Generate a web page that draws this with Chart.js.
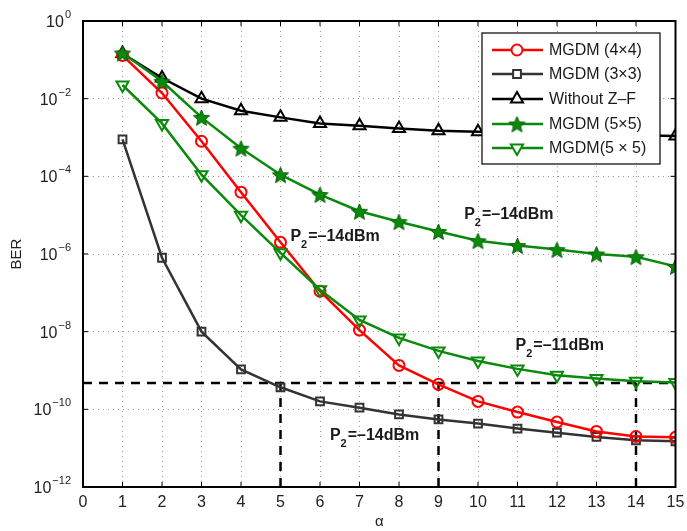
<!DOCTYPE html>
<html>
<head>
<meta charset="utf-8">
<script src="https://cdn.jsdelivr.net/npm/chart.js@4.4.1/dist/chart.umd.min.js"></script>
<style>
  html, body { margin: 0; padding: 0; background: #fff; }
</style>
</head>
<body>
<canvas id="ber" width="687" height="531"></canvas>
<script>
// values
const alpha = [1, 2, 3, 4, 5, 6, 7, 8, 9, 10, 11, 12, 13, 14, 15];
const mgdm4x4 = [1.3e-1, 1.4e-2, 8e-4, 3.9e-5, 2e-6, 1.1e-7, 1.1e-8, 1.35e-9, 4.4e-10, 1.6e-10, 8.5e-11, 4.7e-11, 2.7e-11, 2.0e-11, 1.9e-11];
const mgdm3x3 = [9e-4, 8e-7, 1e-8, 1.07e-9, 3.7e-10, 1.6e-10, 1.1e-10, 7.4e-11, 5.5e-11, 4.3e-11, 3.2e-11, 2.5e-11, 1.95e-11, 1.6e-11, 1.5e-11];
const withoutZF = [1.45e-1, 3.4e-2, 1e-2, 4.9e-3, 3.3e-3, 2.3e-3, 2e-3, 1.7e-3, 1.5e-3, 1.4e-3, 1.3e-3, 1.25e-3, 1.2e-3, 1.15e-3, 1.1e-3];
const mgdm5x5star = [1.5e-1, 2.8e-2, 3.3e-3, 5.3e-4, 1.1e-4, 3.4e-5, 1.26e-5, 6.8e-6, 3.8e-6, 2.2e-6, 1.65e-6, 1.3e-6, 1.0e-6, 8.5e-7, 4.8e-7];
const mgdm5x5tri = [2.25e-2, 2.3e-3, 1.1e-4, 1e-5, 1.07e-6, 1.2e-7, 2e-8, 6.9e-9, 3.2e-9, 1.75e-9, 1.1e-9, 7.5e-10, 6.2e-10, 5.3e-10, 4.9e-10];

const seriesNames = ['MGDM (4\u00d74)', 'MGDM (3\u00d73)', 'Without Z\u2013F', 'MGDM (5\u00d75)', 'MGDM(5 \u00d7 5)'];

// dashed reference lines
const refBer = 4.8e-10;
const refAlpha = [5, 9, 14];

// axis ticks
const xTicks = [0, 1, 2, 3, 4, 5, 6, 7, 8, 9, 10, 11, 12, 13, 14, 15];
const yExponents = [0, -2, -4, -6, -8, -10, -12];

// text notes: [alpha, BER at baseline, text after P2]
const notes = [
  [5.25, 2.15e-6, '=\u201314dBm'],
  [9.65, 8e-6, '=\u201314dBm'],
  [10.95, 3.4e-9, '=\u201311dBm'],
  [6.25, 1.6e-11, '=\u201314dBm']
];

const green = '#0a8a0a';

// filled star marker
function makeStar(size) {
  const c = document.createElement('canvas');
  c.width = size; c.height = size;
  const g = c.getContext('2d');
  const r = size / 2 - 1, ri = r * 0.45, cx = size / 2, cy = size / 2 + 1;
  g.beginPath();
  for (let i = 0; i < 10; i++) {
    const rad = i % 2 ? ri : r;
    const a = -Math.PI / 2 + i * Math.PI / 5;
    g.lineTo(cx + rad * Math.cos(a), cy + rad * Math.sin(a));
  }
  g.closePath();
  g.fillStyle = green;
  g.fill();
  g.strokeStyle = '#066006';
  g.lineWidth = 1;
  g.stroke();
  return c;
}
const starImg = makeStar(19);

function pts(ys) {
  return alpha.map((a, i) => ({ x: a, y: ys[i] }));
}

const datasets = [
  {
    label: seriesNames[0], data: pts(mgdm4x4), order: 2,
    borderColor: '#ff0000', borderWidth: 2.5, pointStyle: 'circle', pointRadius: 5.5,
    pointBorderWidth: 2, pointBorderColor: '#ff0000', pointBackgroundColor: 'rgba(255,255,255,0)'
  },
  {
    label: seriesNames[1], data: pts(mgdm3x3), order: 4,
    borderColor: '#333333', borderWidth: 2.5, pointStyle: 'rect', pointRadius: 5.5,
    pointBorderWidth: 2, pointBorderColor: '#333333', pointBackgroundColor: 'rgba(255,255,255,0)'
  },
  {
    label: seriesNames[2], data: pts(withoutZF), order: 3,
    borderColor: '#000000', borderWidth: 2.5, pointStyle: 'triangle', pointRadius: 7,
    pointBorderWidth: 2, pointBorderColor: '#000000', pointBackgroundColor: 'rgba(255,255,255,0)'
  },
  {
    label: seriesNames[3], data: pts(mgdm5x5star), order: 0,
    borderColor: green, borderWidth: 2.5, pointStyle: starImg, pointRadius: 9
  },
  {
    label: seriesNames[4], data: pts(mgdm5x5tri), order: 1,
    borderColor: green, borderWidth: 2.5, pointStyle: 'triangle', pointRotation: 180, pointRadius: 7,
    pointBorderWidth: 2, pointBorderColor: green, pointBackgroundColor: 'rgba(255,255,255,0)'
  },
  {
    label: 'ref', data: [{ x: 0, y: refBer }, { x: 15, y: refBer }], order: 5,
    borderColor: '#000', borderWidth: 2.5, borderDash: [9, 7], pointRadius: 0
  }
];
refAlpha.forEach(a => {
  datasets.push({
    label: 'ref', data: [{ x: a, y: 1e-12 }, { x: a, y: refBer }], order: 5,
    borderColor: '#000', borderWidth: 2.5, borderDash: [9, 7], pointRadius: 0
  });
});

const FONT = '"Liberation Sans", Arial, sans-serif';

const framePlugin = {
  id: 'frame',
  afterDraw(chart) {
    const { ctx, chartArea: ca, scales } = chart;
    const xs = scales.x, ys = scales.y;
    ctx.save();

    // frame + inward ticks
    ctx.strokeStyle = '#000';
    ctx.lineWidth = 2;
    ctx.strokeRect(ca.left, ca.top, ca.right - ca.left, ca.bottom - ca.top);
    ctx.lineWidth = 1;
    ctx.beginPath();
    xTicks.forEach(t => {
      const px = xs.getPixelForValue(t);
      ctx.moveTo(px, ca.bottom); ctx.lineTo(px, ca.bottom - 5);
      ctx.moveTo(px, ca.top); ctx.lineTo(px, ca.top + 5);
    });
    yExponents.forEach(e => {
      const py = ys.getPixelForValue(Math.pow(10, e));
      ctx.moveTo(ca.left, py); ctx.lineTo(ca.left + 5, py);
      ctx.moveTo(ca.right, py); ctx.lineTo(ca.right - 5, py);
    });
    ctx.stroke();

    // tick labels
    ctx.fillStyle = '#222';
    ctx.font = '16px ' + FONT;
    ctx.textAlign = 'center';
    ctx.textBaseline = 'middle';
    xTicks.forEach(t => ctx.fillText(String(t), xs.getPixelForValue(t), ca.bottom + 16));

    yExponents.forEach(e => {
      const py = ys.getPixelForValue(Math.pow(10, e));
      const exp = e === 0 ? '0' : '\u2212' + String(-e);
      ctx.font = '11px ' + FONT;
      const ew = ctx.measureText(exp).width;
      const right = ca.left - 12;
      ctx.textAlign = 'left';
      ctx.textBaseline = 'alphabetic';
      ctx.fillText(exp, right - ew, py - 3);
      ctx.font = '16px ' + FONT;
      ctx.textAlign = 'right';
      ctx.fillText('10', right - ew - 1, py + 6);
    });

    // axis titles
    ctx.font = '15px ' + FONT;
    ctx.textAlign = 'center';
    ctx.textBaseline = 'middle';
    ctx.fillText('\u03b1', (ca.left + ca.right) / 2, ca.bottom + 35);
    ctx.save();
    ctx.translate(17, (ca.top + ca.bottom) / 2);
    ctx.rotate(-Math.PI / 2);
    ctx.fillText('BER', 0, 0);
    ctx.restore();

    // notes
    ctx.fillStyle = '#1a1a1a';
    notes.forEach(([a, b, txt]) => {
      const px = xs.getPixelForValue(a);
      const py = ys.getPixelForValue(b);
      ctx.textAlign = 'left';
      ctx.textBaseline = 'alphabetic';
      ctx.font = 'bold 16px ' + FONT;
      ctx.fillText('P', px, py);
      const pw = ctx.measureText('P').width;
      ctx.font = 'bold 11px ' + FONT;
      ctx.fillText('2', px + pw, py + 7);
      const sw = ctx.measureText('2').width;
      ctx.font = 'bold 16px ' + FONT;
      ctx.fillText(txt, px + pw + sw + 1, py);
    });

    // legend
    const bx = 482, by = 33, bw = 178, bh = 131;
    ctx.fillStyle = '#fff';
    ctx.fillRect(bx, by, bw, bh);
    ctx.strokeStyle = '#000';
    ctx.lineWidth = 1.2;
    ctx.strokeRect(bx, by, bw, bh);
    const rowY = [50, 74, 99, 124, 148];
    for (let i = 0; i < 5; i++) {
      const ds = chart.data.datasets[i];
      const y = rowY[i];
      ctx.strokeStyle = ds.borderColor;
      ctx.lineWidth = 2.5;
      ctx.beginPath();
      ctx.moveTo(492, y); ctx.lineTo(543, y);
      ctx.stroke();
      ctx.lineWidth = ds.pointBorderWidth || 1;
      ctx.strokeStyle = ds.pointBorderColor || ds.borderColor;
      ctx.fillStyle = '#fff';
      Chart.helpers.drawPoint(ctx, {
        pointStyle: ds.pointStyle, rotation: ds.pointRotation || 0,
        radius: ds.pointRadius, borderWidth: ds.pointBorderWidth || 1
      }, 517, y);
      ctx.fillStyle = '#1a1a1a';
      ctx.font = '16px ' + FONT;
      ctx.textAlign = 'left';
      ctx.textBaseline = 'middle';
      ctx.fillText(ds.label, 549, y + 1);
    }
    ctx.restore();
  }
};

new Chart(document.getElementById('ber'), {
  type: 'line',
  data: { datasets },
  options: {
    responsive: false,
    animation: false,
    layout: { padding: { left: 83, right: 7, top: 21, bottom: 44 } },
    plugins: { legend: { display: false }, tooltip: { enabled: false } },
    elements: { line: { tension: 0 } },
    scales: {
      x: {
        type: 'linear', min: 0, max: 15,
        afterBuildTicks: s => { s.ticks = xTicks.map(v => ({ value: v })); },
        ticks: { display: false },
        grid: { color: '#9a9a9a', lineWidth: 1, drawTicks: false },
        border: { display: false, dash: [1, 4] }
      },
      y: {
        type: 'logarithmic', min: 1e-12, max: 1,
        afterBuildTicks: s => { s.ticks = yExponents.map(e => ({ value: Math.pow(10, e) })); },
        ticks: { display: false },
        grid: { color: '#9a9a9a', lineWidth: 1, drawTicks: false },
        border: { display: false, dash: [1, 4] }
      }
    }
  },
  plugins: [framePlugin]
});
</script>
</body>
</html>
